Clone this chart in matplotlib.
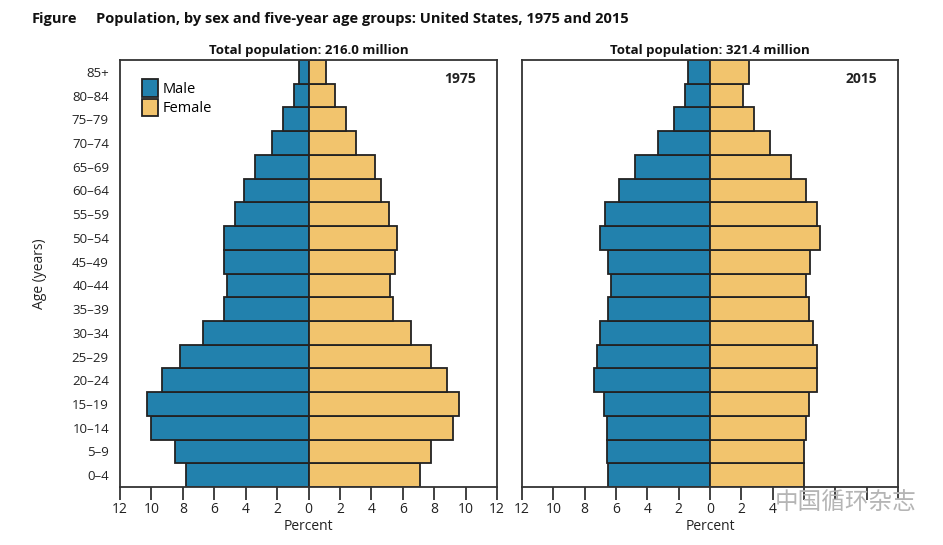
import matplotlib.pyplot as plt
import numpy as np

plt.rcParams["font.family"] = ["Open Sans", "DejaVu Sans"]

# data (percent of total population)
ages = ["0–4", "5–9", "10–14", "15–19", "20–24", "25–29", "30–34", "35–39",
        "40–44", "45–49", "50–54", "55–59", "60–64", "65–69", "70–74",
        "75–79", "80–84", "85+"]
male_1975 = [7.8, 8.5, 10.0, 10.3, 9.3, 8.2, 6.7, 5.4, 5.2, 5.4, 5.4, 4.7,
             4.1, 3.4, 2.3, 1.6, 0.9, 0.6]
female_1975 = [7.1, 7.8, 9.2, 9.6, 8.8, 7.8, 6.5, 5.4, 5.2, 5.5, 5.6, 5.1,
               4.6, 4.2, 3.0, 2.4, 1.7, 1.1]
male_2015 = [6.5, 6.6, 6.6, 6.8, 7.4, 7.2, 7.0, 6.5, 6.3, 6.5, 7.0, 6.7,
             5.8, 4.8, 3.3, 2.3, 1.6, 1.4]
female_2015 = [6.0, 6.0, 6.1, 6.3, 6.8, 6.8, 6.6, 6.3, 6.1, 6.4, 7.0, 6.8,
               6.1, 5.2, 3.8, 2.8, 2.1, 2.5]
totals = ["216.0", "321.4"]
years = ["1975", "2015"]
xticks = [-12, -10, -8, -6, -4, -2, 0, 2, 4, 6, 8, 10, 12]

blue = "#2281ad"
gold = "#f2c46d"
edge = "#222222"

fig = plt.figure(figsize=(9.43, 5.45), dpi=100)
ax1 = fig.add_axes([0.1273, 0.1064, 0.3998, 0.7835])
ax2 = fig.add_axes([0.5536, 0.1064, 0.3987, 0.7835])

y = np.arange(len(ages))
panels = [(ax1, male_1975, female_1975), (ax2, male_2015, female_2015)]
for i, (ax, m, f) in enumerate(panels):
    ax.barh(y, -np.array(m), height=1.0, color=blue, edgecolor=edge,
            linewidth=1.3, label="Male")
    ax.barh(y, f, height=1.0, color=gold, edgecolor=edge,
            linewidth=1.3, label="Female")
    ax.set_xlim(-12, 12)
    ax.set_ylim(-0.5, len(ages) - 0.5)
    ax.set_xticks(xticks)
    labels = [str(abs(t)) for t in xticks]
    if i == 1:
        # right-hand labels are hidden under the watermark in the original
        labels = [l if t <= 4 else "" for l, t in zip(labels, xticks)]
    ax.set_xticklabels(labels)
    ax.tick_params(axis="x", labelsize=10, length=9, width=1.3,
                   color="#333333", pad=2, labelcolor="#222222")
    for s in ax.spines.values():
        s.set_color("#333333")
        s.set_linewidth(1.3)
    ax.set_xlabel("Percent", fontsize=10, labelpad=1, color="#222222")
    ax.set_title("Total population: " + totals[i] + " million",
                 fontsize=9.5, fontweight="bold", pad=4, color="#111111")
    ax.text(0.944, 0.955, years[i], transform=ax.transAxes, ha="right",
            va="center", fontsize=10, fontweight="bold", color="#222222")
    if i == 0:
        ax.set_yticks(y)
        ax.set_yticklabels(ages)
        ax.tick_params(axis="y", length=0, labelsize=9.5, pad=8,
                       labelcolor="#222222")
        ax.set_ylabel("Age (years)", fontsize=10, labelpad=18, color="#222222")
        ax.legend(loc="upper left", bbox_to_anchor=(0.035, 0.975),
                  frameon=False, fontsize=10.5, handlelength=1.1,
                  handleheight=1.45, handletextpad=0.3, labelspacing=0.12,
                  borderaxespad=0.2)
    else:
        ax.set_yticks([])

fig.text(0.034, 0.966, "Figure", fontsize=10.5, fontweight="bold",
         va="center", color="#111111")
fig.text(0.102, 0.966,
         "Population, by sex and five-year age groups: United States, 1975 and 2015",
         fontsize=10.5, fontweight="bold", va="center", color="#111111")

# watermark
fig.text(0.822, 0.077, "中国循环杂志", fontsize=17, color="#b5b5b5",
         family=["Noto Sans CJK SC", "DejaVu Sans"], va="center")

fig.savefig("out.png", dpi=100)
